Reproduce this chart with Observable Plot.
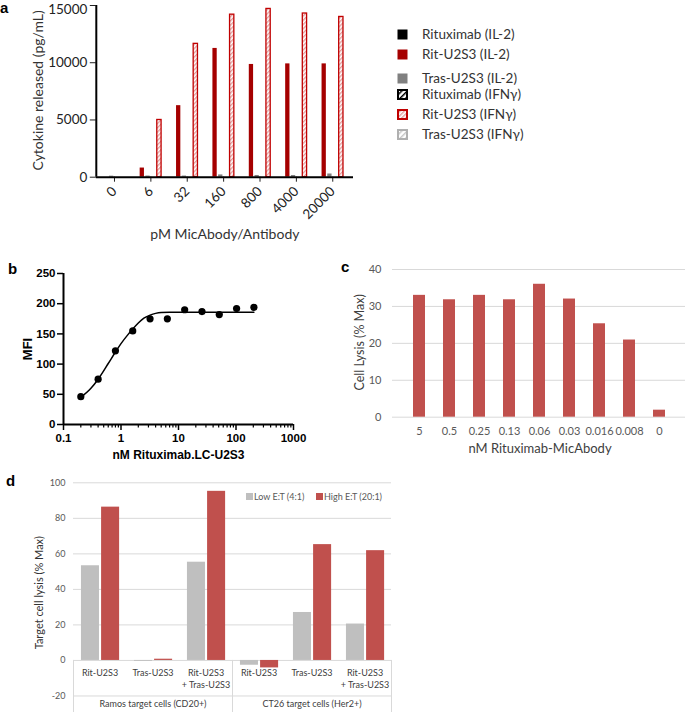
<!DOCTYPE html>
<html><head><meta charset="utf-8">
<script src="https://cdn.jsdelivr.net/npm/d3@7"></script>
<script src="https://cdn.jsdelivr.net/npm/@observablehq/plot@0.6"></script>
<style>
body{margin:0;background:#fff;}
#root{position:relative;width:685px;height:712px;overflow:hidden;background:#fff;}
.panel{position:absolute;}
.panel svg{overflow:visible;}
.letter{position:absolute;font-family:"Liberation Sans",Arial,sans-serif;font-weight:bold;color:#000;font-size:15px;line-height:15px;}
.leg{position:absolute;font-family:Lato,sans-serif;white-space:nowrap;}
</style></head><body><div id="root"></div>
<script>
// ---------- DATA ----------
// Panel a
const groupsA = ["0", "6", "32", "160", "800", "4000", "20000"];
const seriesA = ["Rituximab (IL-2)", "Rit-U2S3 (IL-2)", "Tras-U2S3 (IL-2)", "Rituximab (IFNγ)", "Rit-U2S3 (IFNγ)", "Tras-U2S3 (IFNγ)"];
const rituxIL2 = [0, 0, 0, 0, 0, 0, 0];
const ritIL2 = [0, 800, 6250, 11250, 9850, 9900, 9900];
const trasIL2 = [90, 100, 100, 200, 150, 150, 280];
const rituxIFN = [0, 0, 0, 0, 0, 0, 0];
const ritIFN = [0, 5000, 11650, 14200, 14700, 14300, 14000];
const trasIFN = [0, 0, 0, 0, 0, 0, 0];
const yTicksA = [0, 5000, 10000, 15000];

// Panel b
const concB = [0.2, 0.4, 0.8, 1.6, 3.2, 6.4, 12.8, 25.6, 51.2, 102.4, 204.8];
const mfiB = [46, 75, 122, 155, 175, 175, 190, 187, 182, 192, 194];
const fitConcB = [0.2, 0.3, 0.4, 0.6, 0.8, 1.0, 1.3, 1.6, 2.0, 2.5, 3.2, 4.0, 5.0, 7.0, 10, 20, 50, 100, 204.8];
const fitMfiB = [45, 60, 75, 101, 120, 134, 148, 158, 168, 176, 181, 184, 185.5, 186, 186, 186, 186, 186, 186];
const xTicksB = [0.1, 1, 10, 100, 1000];
const yTicksB = [0, 50, 100, 150, 200, 250];

// Panel c
const labelsC = ["5", "0.5", "0.25", "0.13", "0.06", "0.03", "0.016", "0.008", "0"];
const lysisC = [33, 31.8, 33, 31.8, 36, 32, 25.3, 20.9, 1.9];
const yTicksC = [0, 10, 20, 30, 40];

// Panel d
const catsD = ["Rit-U2S3", "Tras-U2S3", "Rit-U2S3\n+ Tras-U2S3", "Rit-U2S3", "Tras-U2S3", "Rit-U2S3\n+ Tras-U2S3"];
const groupsD = ["Ramos target cells (CD20+)", "CT26 target cells (Her2+)"];
const seriesD = ["Low E:T (4:1)", "High E:T (20:1)"];
const lowD = [53.3, -0.5, 55.3, -2.7, 27.0, 20.5];
const highD = [86.3, 0.7, 95.2, -4.2, 65.2, 61.8];
const yTicksD = [-20, 0, 20, 40, 60, 80, 100];

// ---------- LAYOUT HELPERS ----------
const root = document.getElementById("root");
function place(node, left, top) {
  const div = document.createElement("div");
  div.className = "panel";
  div.style.left = left + "px";
  div.style.top = top + "px";
  div.appendChild(node);
  root.appendChild(div);
  return div;
}
function html(cls, text, left, top, css = "") {
  const d = document.createElement("div");
  d.className = cls;
  d.textContent = text;
  d.style.cssText += `left:${left}px;top:${top}px;${css}`;
  root.appendChild(d);
  return d;
}

// ---------- PANEL A ----------
const valuesA = [rituxIL2, ritIL2, trasIL2, rituxIFN, ritIFN, trasIFN];
const fillsA = ["#000000", "#a50000", "#808080", "url(#hatchBlack)", "url(#hatchRed)", "url(#hatchGray)"];
const strokesA = ["none", "none", "none", "#000000", "#c00000", "#b0b0b0"];
const stepA = 0.157, widthA = 0.118;
const barsA = [];
seriesA.forEach((s, si) => groupsA.forEach((g, gi) => {
  const v = valuesA[si][gi];
  if (v > 0) {
    const c = gi + (si - 2.5) * stepA;
    barsA.push({series: s, si, x1: c - widthA / 2, x2: c + widthA / 2, y: v});
  }
}));

const plotA = Plot.plot({
  width: 360, height: 250,
  marginLeft: 95.8, marginRight: 7, marginTop: 5, marginBottom: 73.3,
  style: {fontFamily: "Lato, sans-serif", fontSize: "13.5px", color: "#222", background: "transparent", overflow: "visible"},
  x: {type: "linear", domain: [-0.5, 6.57], label: null},
  y: {domain: [0, 15000], label: null},
  marks: [
    Plot.axisX({ticks: d3.range(groupsA.length), tickFormat: i => groupsA[i], tickRotate: -45, tickSize: 5, tickPadding: 7, label: null}),
    Plot.axisY({ticks: yTicksA.slice(0, -1), tickFormat: d => String(d), tickSize: 6, tickPadding: 3, label: null}),
    Plot.axisY({ticks: yTicksA.slice(-1), tickSize: 6, tickFormat: () => "", label: null}),
    Plot.axisY({ticks: yTicksA.slice(-1), tickFormat: d => String(d), tickSize: 0, tickPadding: 9, label: null, dy: 4}),
    ...seriesA.map((s, si) => Plot.rectY(barsA.filter(d => d.si === si), {
      x1: "x1", x2: "x2", y: "y",
      fill: fillsA[si], stroke: strokesA[si], strokeWidth: si >= 3 ? 1.3 : 0
    })),
    Plot.ruleY([0], {stroke: "#000", strokeWidth: 2}),
    Plot.ruleX([-0.5], {stroke: "#000", strokeWidth: 2}),
    Plot.text(["Cytokine released (pg/mL)"], {text: d => d, frameAnchor: "left", textAnchor: "middle", rotate: -90, dx: -58, dy: -1, fontSize: 14, fill: "#333"}),
    Plot.text(["pM MicAbody/Antibody"], {text: d => d, frameAnchor: "bottom", dy: 62, fontSize: 14, fill: "#333"})
  ]
});
d3.select(plotA).insert("defs", ":first-child").html(`
  <pattern id="hatchRed" patternUnits="userSpaceOnUse" width="3" height="3" patternTransform="rotate(45)">
    <rect width="3" height="3" fill="#ffffff"/><rect width="1.4" height="3" fill="#e49a9a"/></pattern>
  <pattern id="hatchBlack" patternUnits="userSpaceOnUse" width="4" height="4" patternTransform="rotate(45)">
    <rect width="4" height="4" fill="#ffffff"/><rect width="1.5" height="4" fill="#000000"/></pattern>
  <pattern id="hatchGray" patternUnits="userSpaceOnUse" width="4" height="4" patternTransform="rotate(45)">
    <rect width="4" height="4" fill="#ffffff"/><rect width="1.5" height="4" fill="#c8c8c8"/></pattern>`);
place(plotA, 0, 0);

// Legend for panel a
const legCentersA = [34, 54, 78, 94, 114, 134];
seriesA.forEach((s, si) => {
  const sw = document.createElementNS("http://www.w3.org/2000/svg", "svg");
  sw.setAttribute("width", 11); sw.setAttribute("height", 11);
  sw.style.position = "absolute";
  sw.style.left = "397px"; sw.style.top = (legCentersA[si] - 5.5) + "px";
  const r = document.createElementNS("http://www.w3.org/2000/svg", "rect");
  if (si < 3) {
    r.setAttribute("x", 0.5); r.setAttribute("y", 0.5); r.setAttribute("width", 10); r.setAttribute("height", 10);
    r.setAttribute("fill", fillsA[si]);
  } else {
    r.setAttribute("x", 1); r.setAttribute("y", 1); r.setAttribute("width", 9); r.setAttribute("height", 9);
    r.setAttribute("fill", fillsA[si]); r.setAttribute("stroke", strokesA[si]); r.setAttribute("stroke-width", 2);
  }
  sw.appendChild(r);
  root.appendChild(sw);
  html("leg", s, 422, legCentersA[si] - 9, "font-size:13.5px;line-height:18px;color:#333;");
});

// ---------- PANEL B ----------
const minorB = [];
for (let e = -1; e < 3; e++) for (let k = 2; k <= 9; k++) minorB.push(k * Math.pow(10, e));
const pointsB = concB.map((c, i) => ({c, m: mfiB[i]}));
const fitB = fitConcB.map((c, i) => ({c, m: fitMfiB[i]}));
const plotB = Plot.plot({
  width: 330, height: 220,
  marginLeft: 63, marginRight: 37, marginTop: 23, marginBottom: 46,
  style: {fontFamily: "'Liberation Sans', Arial, sans-serif", fontSize: "11.5px", fontWeight: "bold", color: "#000", background: "transparent", overflow: "visible"},
  x: {type: "log", domain: [0.1, 1000]},
  y: {domain: [0, 250]},
  marks: [
    Plot.axisX({ticks: xTicksB, tickFormat: d => String(d), tickSize: 6, tickPadding: 3, label: null, strokeWidth: 1.5}),
    Plot.axisX({ticks: minorB, tickFormat: () => "", tickSize: 3.5, label: null, strokeWidth: 1.2}),
    Plot.axisY({ticks: yTicksB, tickFormat: d => String(d), tickSize: 6, tickPadding: 2, label: null, strokeWidth: 1.5}),
    Plot.line(fitB, {x: "c", y: "m", curve: "monotone-x", stroke: "#000", strokeWidth: 1.5}),
    Plot.dot(pointsB, {x: "c", y: "m", r: 3.6, fill: "#000", stroke: "none"}),
    Plot.ruleY([0], {stroke: "#000", strokeWidth: 2}),
    Plot.ruleX([0.1], {stroke: "#000", strokeWidth: 2}),
    Plot.text(["MFI"], {text: d => d, frameAnchor: "left", textAnchor: "middle", rotate: -90, dx: -36, fontSize: 13}),
    Plot.text(["nM Rituximab.LC-U2S3"], {text: d => d, frameAnchor: "bottom", dy: 34, fontSize: 12})
  ]
});
place(plotB, 0, 250);

// ---------- PANEL C ----------
const dataC = labelsC.map((l, i) => ({label: l, v: lysisC[i]}));
const plotC = Plot.plot({
  width: 355, height: 220,
  marginLeft: 62, marginRight: 0, marginTop: 19, marginBottom: 53.3,
  style: {fontFamily: "Lato, sans-serif", fontSize: "11px", color: "#595959", background: "transparent", overflow: "visible"},
  x: {domain: labelsC, padding: 0.6, tickSize: 0, tickPadding: 10, label: null},
  y: {domain: [0, 40], ticks: yTicksC, tickSize: 0, tickPadding: 11, label: null},
  marks: [
    Plot.ruleY(yTicksC, {stroke: "#d9d9d9", strokeWidth: 1}),
    Plot.barY(dataC, {x: "label", y: "v", fill: "#c0504d"}),
    Plot.text(["Cell Lysis (% Max)"], {text: d => d, frameAnchor: "left", textAnchor: "middle", rotate: -90, dx: -33, dy: -1, fontSize: 12.5, fill: "#404040"}),
    Plot.text(["nM Rituximab-MicAbody"], {text: d => d, frameAnchor: "bottom", dy: 35.5, dx: 1, fontSize: 13, fill: "#404040"})
  ]
});
place(plotC, 330, 250);

// ---------- PANEL D ----------
const barsD = [];
catsD.forEach((c, i) => {
  barsD.push({series: seriesD[0], x1: i + 0.15, x2: i + 0.49, y: lowD[i]});
  barsD.push({series: seriesD[1], x1: i + 0.53, x2: i + 0.87, y: highD[i]});
});
const catTextD = catsD.map((c, i) => ({x: i + 0.5, t: c}));
const groupTextD = groupsD.map((g, i) => ({x: i * 3 + 1.5, t: g}));
const yBottomD = -29.3;
const plotD = Plot.plot({
  width: 400, height: 247,
  marginLeft: 73, marginRight: 9, marginTop: 17.3, marginBottom: 0,
  style: {fontFamily: "Lato, sans-serif", fontSize: "9px", color: "#595959", background: "transparent", overflow: "visible"},
  x: {type: "linear", domain: [0, 6], axis: null},
  y: {domain: [yBottomD, 100], ticks: yTicksD, tickFormat: d => String(d), tickSize: 0, tickPadding: 8, label: null},
  marks: [
    Plot.ruleY(yTicksD, {stroke: "#d9d9d9", strokeWidth: 1}),
    Plot.ruleX([0, 3, 6], {y1: 0, y2: yBottomD, stroke: "#d9d9d9", strokeWidth: 1}),
    Plot.rectY(barsD.filter(d => d.series === seriesD[0]), {x1: "x1", x2: "x2", y: "y", fill: "#bfbfbf"}),
    Plot.rectY(barsD.filter(d => d.series === seriesD[1]), {x1: "x1", x2: "x2", y: "y", fill: "#c0504d"}),
    Plot.text(catTextD, {x: "x", y: -4.3, text: "t", lineAnchor: "top", lineHeight: 1.3, fontSize: 9, fill: "#404040"}),
    Plot.text(groupTextD, {x: "x", y: -24.8, text: "t", fontSize: 9, fill: "#404040"}),
    Plot.text(["Target cell lysis (% Max)"], {text: d => d, frameAnchor: "left", textAnchor: "middle", rotate: -90, dx: -34, dy: -5, fontSize: 11, fill: "#333"})
  ]
});
place(plotD, 0, 465);

// Legend panel d
const legD = [{s: seriesD[0], c: "#bfbfbf", x: 246}, {s: seriesD[1], c: "#c0504d", x: 316}];
legD.forEach(o => {
  const sq = document.createElement("div");
  sq.style.cssText = `position:absolute;left:${o.x}px;top:493px;width:7px;height:7px;background:${o.c};`;
  root.appendChild(sq);
  html("leg", o.s, o.x + 8, 490, "font-size:9px;line-height:13px;color:#595959;");
});

// Panel letters
html("letter", "a", 0, -0.5);
html("letter", "b", 8, 260.5);
html("letter", "c", 341, 259);
html("letter", "d", 6, 473);
</script>
</body></html>
